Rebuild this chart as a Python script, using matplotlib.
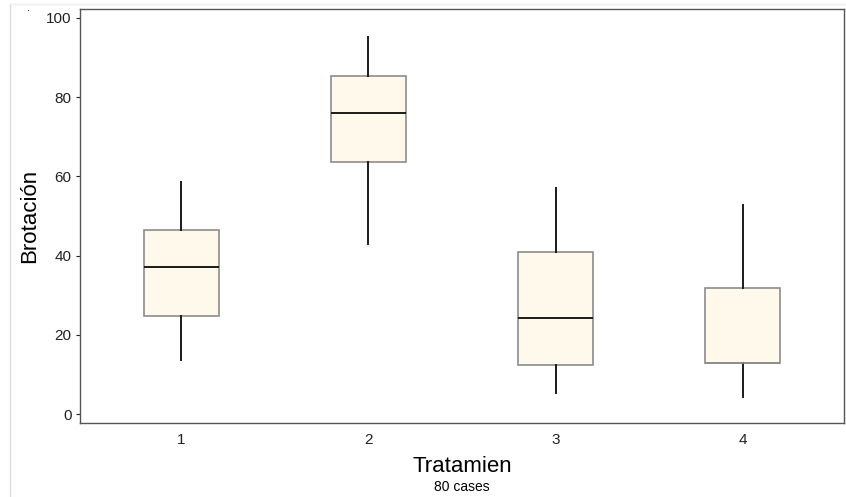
import matplotlib.pyplot as plt
from matplotlib.lines import Line2D

plt.rcParams['font.family'] = ['Liberation Sans', 'DejaVu Sans']

# Datos (cuartiles y bigotes)
tratamientos = ['1', '2', '3', '4']
bigote_inf = [13.6, 42.9, 5.2, 4.3]
q1 = [24.8, 63.7, 12.3, 12.8]
mediana = [37.0, 76.0, 24.3, 12.8]
q3 = [46.5, 85.3, 40.8, 31.7]
bigote_sup = [58.7, 95.3, 57.1, 52.8]

stats = []
for i, t in enumerate(tratamientos):
    stats.append(dict(label=t, whislo=bigote_inf[i], q1=q1[i], med=mediana[i],
                      q3=q3[i], whishi=bigote_sup[i], fliers=[]))

fig = plt.figure(figsize=(8.46, 4.97), dpi=100)
ax = fig.add_axes([0.0946, 0.1489, 0.903, 0.833])

r = ax.bxp(stats, positions=[1, 2, 3, 4], widths=0.40, patch_artist=True,
           showcaps=False, showfliers=False,
           boxprops=dict(facecolor='#fff9ec', edgecolor='#8c8c8c', linewidth=1.2),
           medianprops=dict(color='#1a1a1a', linewidth=1.4),
           whiskerprops=dict(color='#1a1a1a', linewidth=1.4))

# la mediana del tratamiento 4 coincide con Q1: queda el borde gris
for i in range(len(tratamientos)):
    if mediana[i] == q1[i]:
        r['medians'][i].set_color('#8c8c8c')
        r['medians'][i].set_linewidth(1.2)

ax.set_xlim(0.46, 4.54)
ax.set_ylim(-2.27, 102.27)
ax.set_yticks([0, 20, 40, 60, 80, 100])
ax.tick_params(axis='x', length=0, labelsize=11, pad=7, colors='#222222')
ax.tick_params(axis='y', length=3, labelsize=11, colors='#222222', pad=3)

for s in ax.spines.values():
    s.set_color('#555555')
    s.set_linewidth(1.0)

ax.set_ylabel('Brotación', fontsize=16, va='center')
ax.yaxis.set_label_coords(-0.0654, 0.5)
ax.set_xlabel('Tratamien', fontsize=16, va='center')
ax.xaxis.set_label_coords(0.5, -0.1039)
ax.text(0.5, (423 - 487) / 414, '80 cases', transform=ax.transAxes,
        ha='center', va='center', fontsize=10)

# bordes tenues de la página original
fig.add_artist(Line2D([10/846, 10/846], [0, 1 - 4/497], color='#dddddd', lw=1,
                      transform=fig.transFigure))
fig.add_artist(Line2D([10/846, 1], [1 - 4/497, 1 - 4/497], color='#eeeeee', lw=1,
                      transform=fig.transFigure))
fig.text(28/846, 1 - 13/497, '.', fontsize=8, ha='center', va='bottom')

fig.savefig('out.png', dpi=100)
